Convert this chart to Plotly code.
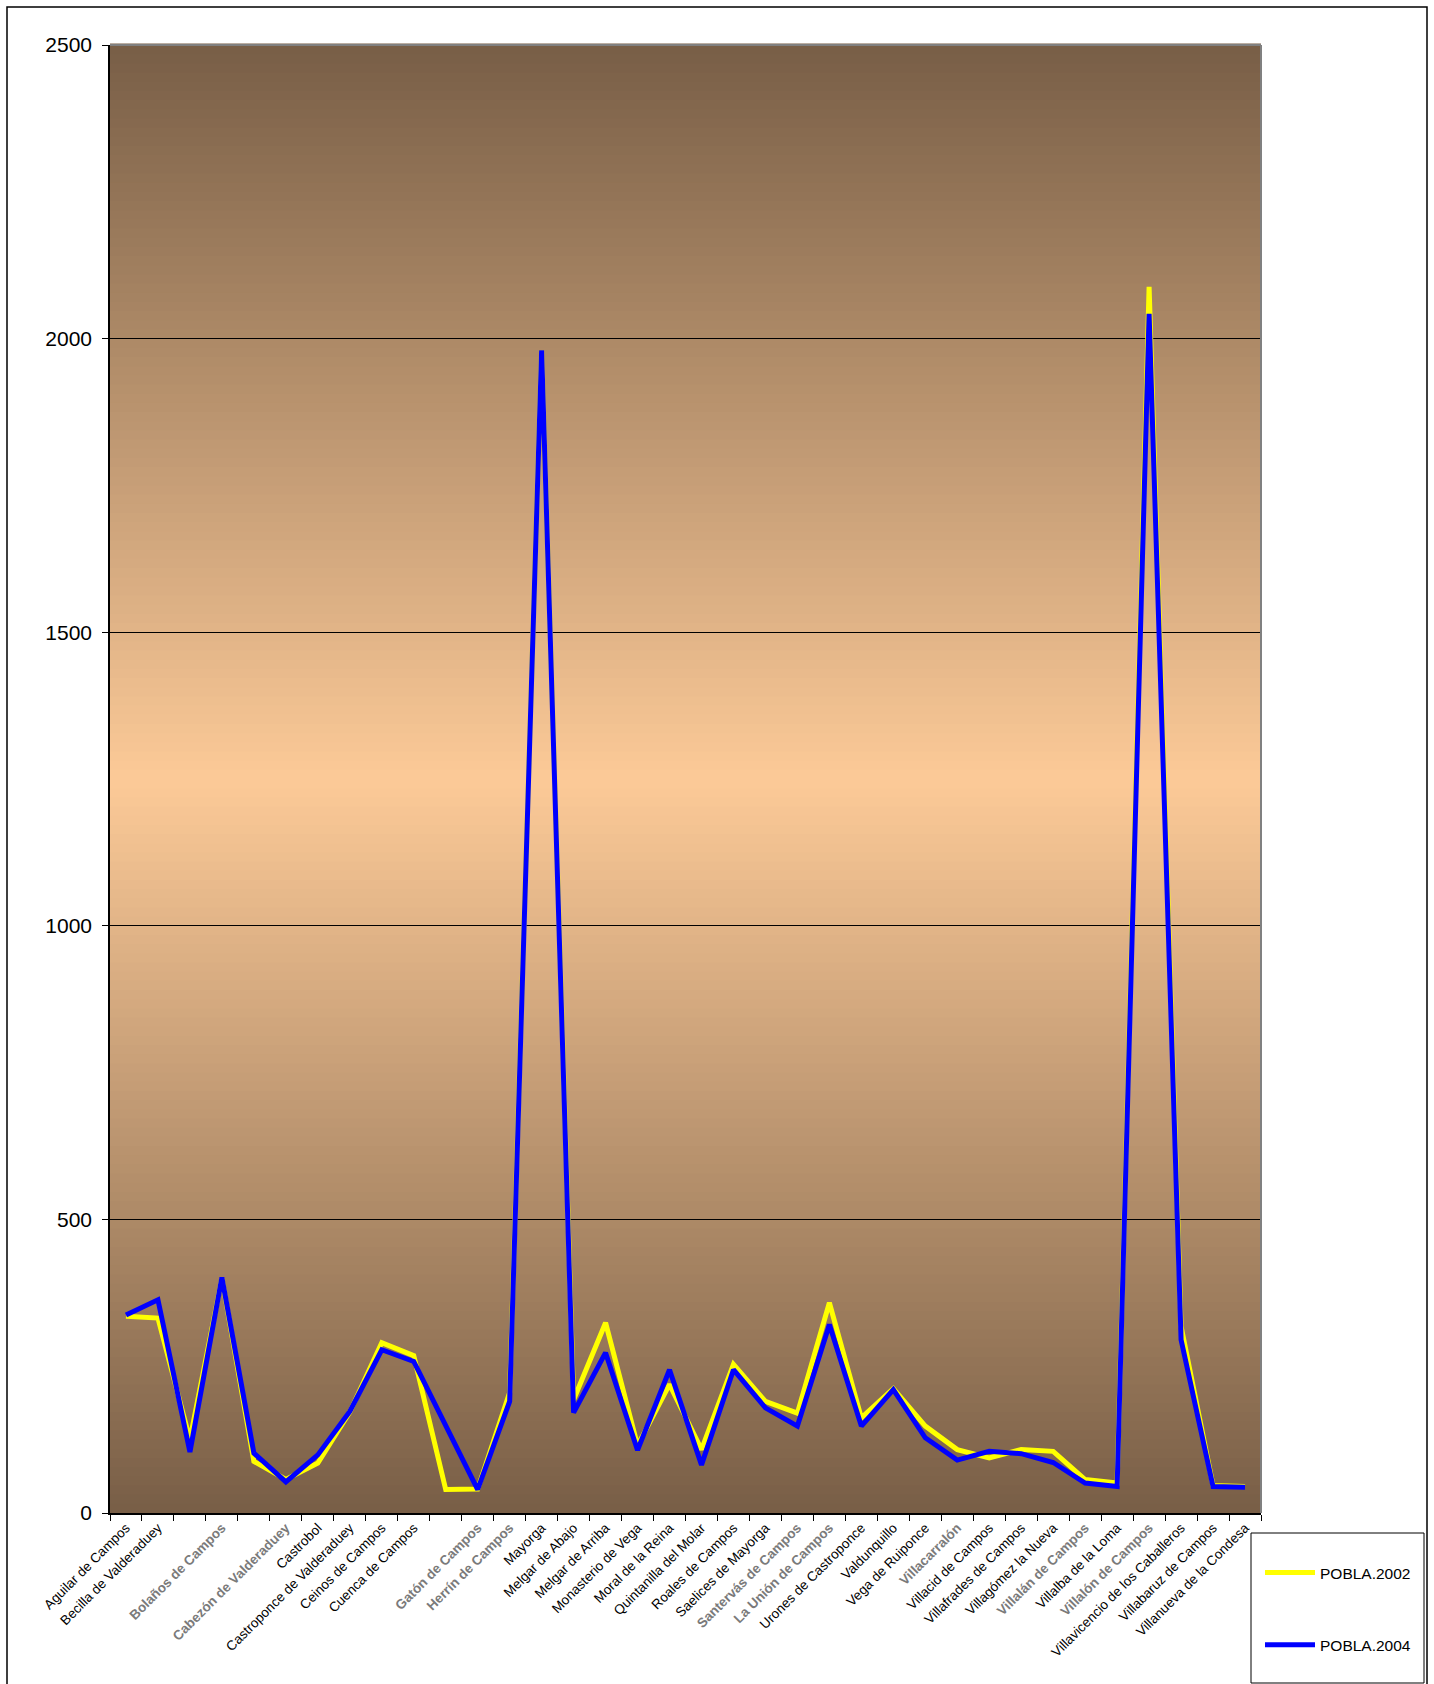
import plotly.graph_objects as go

# ---------------- data ----------------
categories = [
    "Aguilar de Campos", "Becilla de Valderaduey", "Berrueces", "Bolaños de Campos",
    "Bustillo de Chaves", "Cabezón de Valderaduey", "Castrobol", "Castroponce de Valderaduey",
    "Ceinos de Campos", "Cuenca de Campos", "Fontihoyuelo", "Gatón de Campos",
    "Herrín de Campos", "Mayorga", "Melgar de Abajo", "Melgar de Arriba",
    "Monasterio de Vega", "Moral de la Reina", "Quintanilla del Molar", "Roales de Campos",
    "Saelices de Mayorga", "Santervás de Campos", "La Unión de Campos", "Urones de Castroponce",
    "Valdunquillo", "Vega de Ruiponce", "Villacarralón", "Villacid de Campos",
    "Villafrades de Campos", "Villagómez la Nueva", "Villalán de Campos", "Villalba de la Loma",
    "Villalón de Campos", "Villavicencio de los Caballeros", "Villabaruz de Campos", "Villanueva de la Condesa",
]

# labels as shown on the axis ("" = not visible in the chart)
tick_labels = [
    "Aguilar de Campos", "Becilla de Valderaduey", "", "Bolaños de Campos",
    "", "Cabezón de Valderaduey", "Castrobol", "Castroponce de Valderaduey",
    "Ceinos de Campos", "Cuenca de Campos", "", "Gatón de Campos",
    "Herrín de Campos", "Mayorga", "Melgar de Abajo", "Melgar de Arriba",
    "Monasterio de Vega", "Moral de la Reina", "Quintanilla del Molar", "Roales de Campos",
    "Saelices de Mayorga", "Santervás de Campos", "La Unión de Campos", "Urones de Castroponce",
    "Valdunquillo", "Vega de Ruiponce", "Villacarralón", "Villacid de Campos",
    "Villafrades de Campos", "Villagómez la Nueva", "Villalán de Campos", "Villalba de la Loma",
    "Villalón de Campos", "Villavicencio de los Caballeros", "Villabaruz de Campos", "Villanueva de la Condesa",
]

# labels drawn greyed / bold in the original
grey_labels = [
    "Bolaños de Campos", "Cabezón de Valderaduey", "Gatón de Campos", "Herrín de Campos",
    "Santervás de Campos", "La Unión de Campos", "Villacarralón", "Villalán de Campos",
    "Villalón de Campos",
]

pobla_2002 = [335, 332, 125, 400, 88, 57, 85, 172, 290, 268, 40, 41, 205, 1980, 193, 324,
              115, 219, 108, 253, 190, 170, 358, 162, 212, 148, 108, 94, 108, 105, 57, 51,
              2088, 318, 47, 45]
pobla_2004 = [337, 363, 104, 401, 102, 53, 99, 173, 278, 258, None, 40, 190, 1980, 171, 273,
              107, 244, 82, 244, 179, 148, 321, 148, 210, 128, 90, 105, 101, 86, 51, 45,
              2042, 295, 45, 44]

y_ticks = [0, 500, 1000, 1500, 2000, 2500]

# ---------------- layout geometry (pixels) ----------------
W, H = 1434, 1684
L, R, T, B = 110, 1261, 45, 1513


def px(x):
    return (x - L) / (R - L)


def py(y):
    return (B - y) / (B - T)


FONT = "Liberation Sans, Arial, sans-serif"

fig = go.Figure()
fig.add_trace(go.Scatter(
    x=categories, y=pobla_2002, mode="lines", name="POBLA.2002",
    line=dict(color="#FFFF00", width=5), legendgroup="a",
))
fig.add_trace(go.Scatter(
    x=categories, y=pobla_2004, mode="lines", name="POBLA.2004",
    line=dict(color="#0000FF", width=5), connectgaps=True, legendgroup="b",
))

ticktext = []
for t in tick_labels:
    if t in grey_labels:
        ticktext.append("<b><span style='color:#7a7a7a'>%s</span></b>" % t)
    else:
        ticktext.append(t)

# gradient background (dark brown at edges, peach in the middle)
dark = (120, 94, 70)
light = (252, 202, 152)
shapes = []
N = 160
for i in range(N):
    y0 = i / N
    y1 = (i + 1) / N
    c = (y0 + y1) / 2
    t = 1 - abs(c - 0.5) / 0.5
    col = tuple(int(round(dark[k] + (light[k] - dark[k]) * t)) for k in range(3))
    shapes.append(dict(type="rect", xref="paper", yref="paper", x0=0, x1=1, y0=y0, y1=y1 + 0.001,
                       fillcolor="rgb(%d,%d,%d)" % col, line=dict(width=0), layer="below"))

# plot area grey frame (top and right)
shapes.append(dict(type="line", xref="paper", yref="paper", x0=0, x1=1, y0=1, y1=1,
                   line=dict(color="#808080", width=2)))
shapes.append(dict(type="line", xref="paper", yref="paper", x0=1, x1=1, y0=0, y1=1,
                   line=dict(color="#808080", width=2)))
# outer chart border
shapes.append(dict(type="rect", xref="paper", yref="paper", x0=px(7), x1=px(1427), y0=py(1700), y1=py(7),
                   line=dict(color="#000000", width=1.5), fillcolor="rgba(0,0,0,0)"))
# legend box
shapes.append(dict(type="rect", xref="paper", yref="paper", x0=px(1251), x1=px(1424), y0=py(1683), y1=py(1533),
                   line=dict(color="#000000", width=1), fillcolor="rgba(0,0,0,0)"))

fig.update_layout(
    width=W, height=H,
    margin=dict(l=L, r=W - R, t=T, b=H - B, pad=0),
    paper_bgcolor="#FFFFFF",
    plot_bgcolor="rgba(0,0,0,0)",
    font=dict(family=FONT, color="#000000"),
    shapes=shapes,
    showlegend=True,
    legend=dict(
        x=px(1260), y=py(1556), xanchor="left", yanchor="top",
        bgcolor="rgba(0,0,0,0)", borderwidth=0,
        font=dict(size=15.5, family=FONT, color="#000000"),
        tracegroupgap=49, traceorder="grouped", itemwidth=50,
    ),
)

fig.update_xaxes(
    type="category",
    tickmode="array", tickvals=categories, ticktext=ticktext,
    tickangle=-45, tickfont=dict(size=13.5, family=FONT, color="#000000"),
    ticks="outside", ticklen=6, tickcolor="#000000", tickson="boundaries",
    showline=True, linecolor="#000000", linewidth=1.5,
    showgrid=False, range=[-0.5, 35.5],
)
fig.update_yaxes(
    range=[0, 2500], tickmode="array", tickvals=y_ticks,
    tickfont=dict(size=21, family=FONT, color="#000000"),
    ticks="outside", ticklen=6, tickcolor="#000000",
    showline=True, linecolor="#000000", linewidth=1.5,
    showgrid=True, gridcolor="#000000", gridwidth=1,
    zeroline=False, ticklabelstandoff=6,
)

fig.write_html("out.html", config={"displayModeBar": False},
               post_script="document.body.style.margin='0';")
